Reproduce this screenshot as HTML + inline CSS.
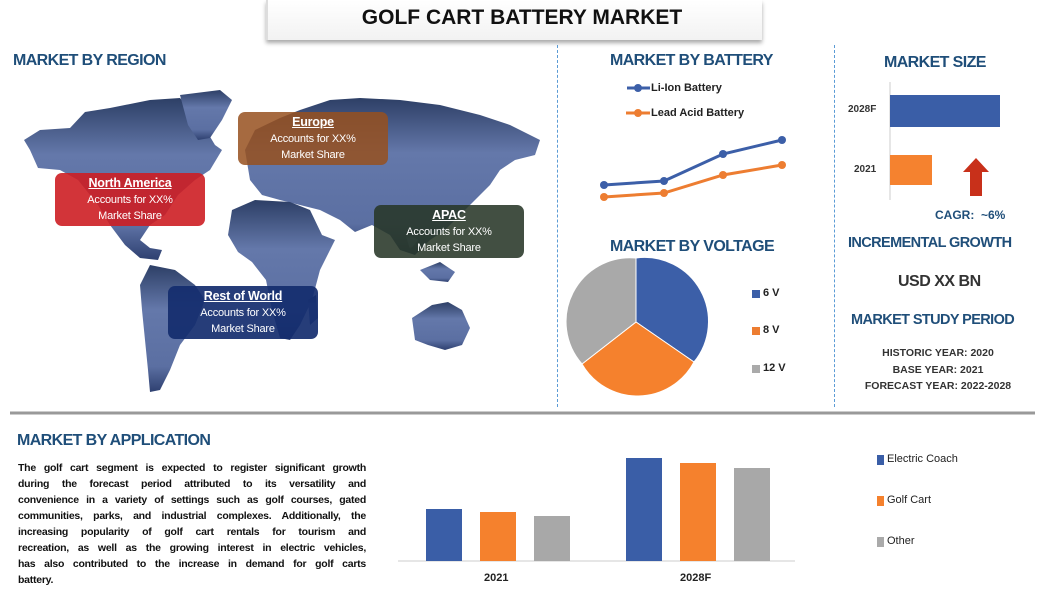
<!DOCTYPE html>
<html><head><meta charset="utf-8"><style>
body{margin:0;width:1051px;height:592px;background:#fff;position:relative;overflow:hidden;font-family:"Liberation Sans",sans-serif}
.a{position:absolute}
.h{color:#1f4e79;font-weight:bold;white-space:nowrap;letter-spacing:-0.6px}
.box{position:absolute;border-radius:7px;color:#fff;text-align:center;font-size:11px;line-height:16px;padding-top:2px;letter-spacing:-0.2px}
.box b{text-decoration:underline;font-size:12.5px}
.p{font-weight:bold;font-size:10.5px;line-height:16px;color:#111;letter-spacing:-0.25px}
.p div{text-align:justify;text-align-last:justify;white-space:nowrap}
.p div.l{text-align-last:left}
</style></head><body>
<div class="a" style="left:266px;top:0;width:494px;height:40px;background:linear-gradient(#fff,#f2f2f2);box-shadow:0 3px 4px #aaa;border-left:2px solid #ddd"></div>
<div class="a" style="left:266px;top:6px;width:512px;text-align:center;font-size:21px;font-weight:bold;color:#111">GOLF CART BATTERY MARKET</div>
<div class="a h" style="left:13px;top:52px;font-size:16px">MARKET BY REGION</div>
<div class="a" style="left:557px;top:45px;height:362px;border-left:1px dashed #5b9bd5"></div>
<div class="a" style="left:834px;top:45px;height:362px;border-left:1px dashed #5b9bd5"></div>
<svg class="a" style="left:0;top:0" width="1051" height="592">
<defs><linearGradient id="m" x1="0" y1="0" x2="0" y2="1"><stop offset="0" stop-color="#2d3f66"/><stop offset=".35" stop-color="#6478aa"/><stop offset=".8" stop-color="#5b6fa2"/><stop offset="1" stop-color="#2e4070"/></linearGradient></defs>
<g fill="url(#m)" transform="translate(0,0)">
<!-- North America -->
<path d="M24 140 L40 130 L70 128 L85 112 L110 108 L150 100 L180 98 L200 120 L215 145 L222 150 L210 170 L195 180 L178 195 L165 215 L150 225 L140 240 L150 248 L162 250 L158 260 L140 258 L125 245 L110 225 L98 205 L78 180 L60 170 L38 168 L30 150 Z"/>
<!-- Greenland -->
<path d="M180 95 L220 90 L232 100 L222 120 L210 138 L198 140 L188 125 Z"/>
<!-- South America -->
<path d="M150 265 L175 270 L195 285 L205 300 L195 325 L180 345 L170 370 L160 390 L150 392 L148 370 L145 340 L142 310 L140 285 Z"/>
<!-- Eurasia -->
<path d="M245 150 L255 130 L280 118 L300 110 L330 100 L360 98 L400 100 L440 105 L480 115 L510 125 L540 140 L535 155 L515 160 L500 170 L490 185 L475 200 L460 215 L445 230 L430 240 L415 255 L400 250 L390 235 L372 225 L355 232 L340 220 L320 210 L300 205 L280 200 L262 195 L250 180 Z"/>
<!-- Africa -->
<path d="M232 210 L255 200 L290 202 L310 210 L322 235 L335 240 L320 270 L312 300 L300 325 L290 340 L280 338 L272 310 L266 280 L252 262 L238 252 L228 235 Z"/>
<!-- Australia -->
<path d="M412 318 L432 305 L448 302 L462 310 L470 328 L462 345 L445 350 L428 345 L415 340 Z"/>
<!-- islands -->
<path d="M420 270 L440 262 L455 272 L448 282 L430 280 Z"/>
<path d="M405 232 L418 240 L410 250 Z"/>
<path d="M308 300 L316 295 L318 318 L310 325 Z"/>
</g>
<line x1="10" y1="413" x2="1035" y2="413" stroke="#999" stroke-width="3"/>
<polyline points="604,185 664,181 723,154 782,140" fill="none" stroke="#3c5fa8" stroke-width="3"/>
<polyline points="604,197 664,193 723,175 782,165" fill="none" stroke="#ed7d31" stroke-width="3"/>
<g fill="#3c5fa8"><circle cx="604" cy="185" r="4"/><circle cx="664" cy="181" r="4"/><circle cx="723" cy="154" r="4"/><circle cx="782" cy="140" r="4"/><circle cx="638" cy="88" r="4"/></g>
<g fill="#ed7d31"><circle cx="604" cy="197" r="4"/><circle cx="664" cy="193" r="4"/><circle cx="723" cy="175" r="4"/><circle cx="782" cy="165" r="4"/><circle cx="638" cy="113" r="4"/></g>
<line x1="627" y1="88" x2="650" y2="88" stroke="#3c5fa8" stroke-width="3"/>
<line x1="626" y1="113" x2="650" y2="113" stroke="#ed7d31" stroke-width="3"/>
<path d="M636 322 L636 258 A64 64 0 0 1 694 362 Z" fill="#3c5fa8" stroke="#fff"/>
<path d="M636 322 L694 362 A64 64 0 0 1 582 364 Z" fill="#f5812d" stroke="#fff"/>
<path d="M636 322 L582 364 A64 64 0 0 1 636 258 Z" fill="#a9a9a9" stroke="#fff"/>
<rect x="752" y="290" width="8" height="8" fill="#3c5fa8"/><rect x="752" y="327" width="8" height="8" fill="#ed7d31"/><rect x="752" y="365" width="8" height="8" fill="#aaa"/>
<line x1="890" y1="82" x2="890" y2="200" stroke="#ccc"/>
<rect x="890" y="95" width="110" height="32" fill="#3a5ea7"/>
<rect x="890" y="155" width="42" height="30" fill="#f5822f"/>
<path d="M970 196 L970 172 L963 172 L976 158 L989 172 L982 172 L982 196 Z" fill="#c8301a"/>
<line x1="398" y1="561" x2="795" y2="561" stroke="#ccc"/>
<rect x="426" y="509" width="36" height="52" fill="#3a5ea7"/>
<rect x="480" y="512" width="36" height="49" fill="#f5812d"/>
<rect x="534" y="516" width="36" height="45" fill="#a8a8a8"/>
<rect x="626" y="458" width="36" height="103" fill="#3a5ea7"/>
<rect x="680" y="463" width="36" height="98" fill="#f5812d"/>
<rect x="734" y="468" width="36" height="93" fill="#a8a8a8"/>
<rect x="877" y="455" width="7" height="10" fill="#3a5ea7"/><rect x="877" y="496" width="7" height="10" fill="#f5812d"/><rect x="877" y="537" width="7" height="10" fill="#aaa"/>
</svg>
<div class="box" style="left:238px;top:112px;width:150px;height:51px;background:rgba(150,80,30,.85)"><b>Europe</b><br>Accounts for XX%<br>Market Share</div>
<div class="box" style="left:55px;top:173px;width:150px;height:51px;background:rgba(205,30,35,.9)"><b>North America</b><br>Accounts for XX%<br>Market Share</div>
<div class="box" style="left:374px;top:205px;width:150px;height:51px;background:rgba(40,55,40,.88)"><b>APAC</b><br>Accounts for XX%<br>Market Share</div>
<div class="box" style="left:168px;top:286px;width:150px;height:51px;background:rgba(20,45,110,.92)"><b>Rest of World</b><br>Accounts for XX%<br>Market Share</div>
<div class="a h" style="left:610px;top:52px;font-size:16px">MARKET BY BATTERY</div>
<div class="a" style="left:651px;top:82px;font-size:11px;font-weight:bold;color:#222">Li-Ion Battery</div>
<div class="a" style="left:651px;top:107px;font-size:11px;font-weight:bold;color:#222">Lead Acid Battery</div>
<div class="a h" style="left:610px;top:238px;font-size:16px">MARKET BY VOLTAGE</div>
<div class="a" style="left:763px;top:287px;font-size:11px;font-weight:bold;color:#222">6 V</div>
<div class="a" style="left:763px;top:324px;font-size:11px;font-weight:bold;color:#222">8 V</div>
<div class="a" style="left:763px;top:362px;font-size:11px;font-weight:bold;color:#222">12 V</div>
<div class="a h" style="left:884px;top:54px;font-size:16px">MARKET SIZE</div>
<div class="a" style="left:848px;top:104px;font-size:10px;font-weight:bold;color:#333">2028F</div>
<div class="a" style="left:854px;top:164px;font-size:10px;font-weight:bold;color:#333">2021</div>
<div class="a h" style="left:935px;top:208px;font-size:12px;letter-spacing:0">CAGR:&nbsp; ~6%</div>
<div class="a h" style="left:848px;top:235px;font-size:14.5px">INCREMENTAL GROWTH</div>
<div class="a" style="left:898px;top:273px;font-size:16px;font-weight:bold;color:#333;letter-spacing:-0.5px">USD XX BN</div>
<div class="a h" style="left:851px;top:312px;font-size:14.5px">MARKET STUDY PERIOD</div>
<div class="a" style="left:850px;top:345px;width:176px;text-align:center;font-size:10.5px;line-height:16.5px;font-weight:bold;color:#333">HISTORIC YEAR: 2020<br>BASE YEAR: 2021<br>FORECAST YEAR: 2022-2028</div>
<div class="a h" style="left:17px;top:432px;font-size:16px">MARKET BY APPLICATION</div>
<div class="a p" style="left:18px;top:460px;width:348px">
<div>The golf cart segment is expected to register significant growth</div>
<div>during the forecast period attributed to its versatility and</div>
<div>convenience in a variety of settings such as golf courses, gated</div>
<div>communities, parks, and industrial complexes. Additionally, the</div>
<div>increasing popularity of golf cart rentals for tourism and</div>
<div>recreation, as well as the growing interest in electric vehicles,</div>
<div>has also contributed to the increase in demand for golf carts</div>
<div class="l">battery.</div>
</div>
<div class="a" style="left:484px;top:572px;font-size:11px;font-weight:bold;color:#222">2021</div>
<div class="a" style="left:680px;top:572px;font-size:11px;font-weight:bold;color:#222">2028F</div>
<div class="a" style="left:887px;top:453px;font-size:11px;color:#222">Electric Coach</div>
<div class="a" style="left:887px;top:494px;font-size:11px;color:#222">Golf Cart</div>
<div class="a" style="left:887px;top:535px;font-size:11px;color:#222">Other</div>
</body></html>
